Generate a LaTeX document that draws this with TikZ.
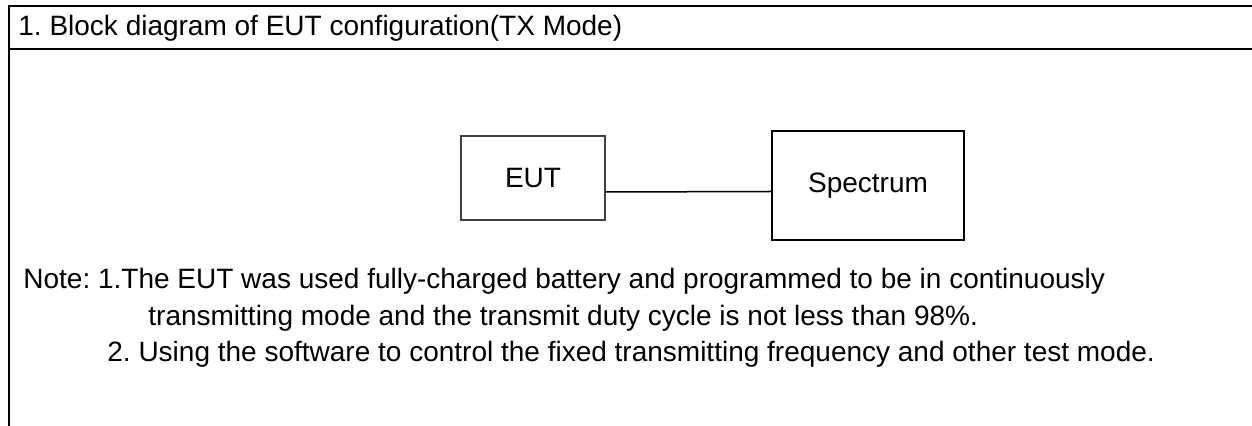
\documentclass[tikz,border=0pt]{standalone}
\usepackage{fontspec}
\setmainfont{Liberation Sans}
\usetikzlibrary{positioning,calc}
\frenchspacing
\definecolor{ink}    {HTML}{000000}
\definecolor{boxgrey}{HTML}{404040}
\tikzset{
  every node/.style={font=\fontsize{14}{17}\selectfont},
  % --- nodes
  blk/.style    = {draw=ink, line width=0.8pt, align=center, inner sep=0pt},
  eutblk/.style = {blk, draw=boxgrey},
  txt/.style    = {anchor=base west, inner sep=0pt, text=ink},
  % --- edges
  rule/.style   = {draw=ink, line width=1pt},
  wire/.style   = {draw=ink, line width=0.75pt},
}
\begin{document}
\begin{tikzpicture}[x=0.5pt,y=-0.5pt]
  \useasboundingbox (0,0) rectangle (1252,426);
  % table frame
  \coordinate (top r) at (1252,6);
  \coordinate (top l) at (9,6);
  \coordinate (foot l) at (9,426);
  \coordinate (mid l) at (9,49);
  \coordinate (mid r) at (1252,49);
  \draw[rule] (top r) -- (top l) -- (foot l);
  \draw[rule] (mid l) -- (mid r);

  \node[txt] (title) at (18,36) {1. Block diagram of EUT configuration(TX Mode)};

  \node[eutblk, minimum width=72pt, minimum height=42pt] (eut) at (533,178) {EUT};
  \node[blk, minimum width=96pt, minimum height=54.5pt] (spec) at (868,185.5) {Spectrum};
  \draw[wire] ([yshift=-7pt]eut.east) -- ([yshift=-3pt]spec.west);

  % notes
  \node[txt] (note1) at (23,289)
    {Note: 1.The EUT was used fully-charged battery and programmed to be in continuously};
  \node[txt] (note1b) at (148,326)
    {transmitting mode and the transmit duty cycle is not less than 98\%.};
  \node[txt] (note2) at (107,362)
    {2. Using the software to control the fixed transmitting frequency and other test mode.};
\end{tikzpicture}
\end{document}
